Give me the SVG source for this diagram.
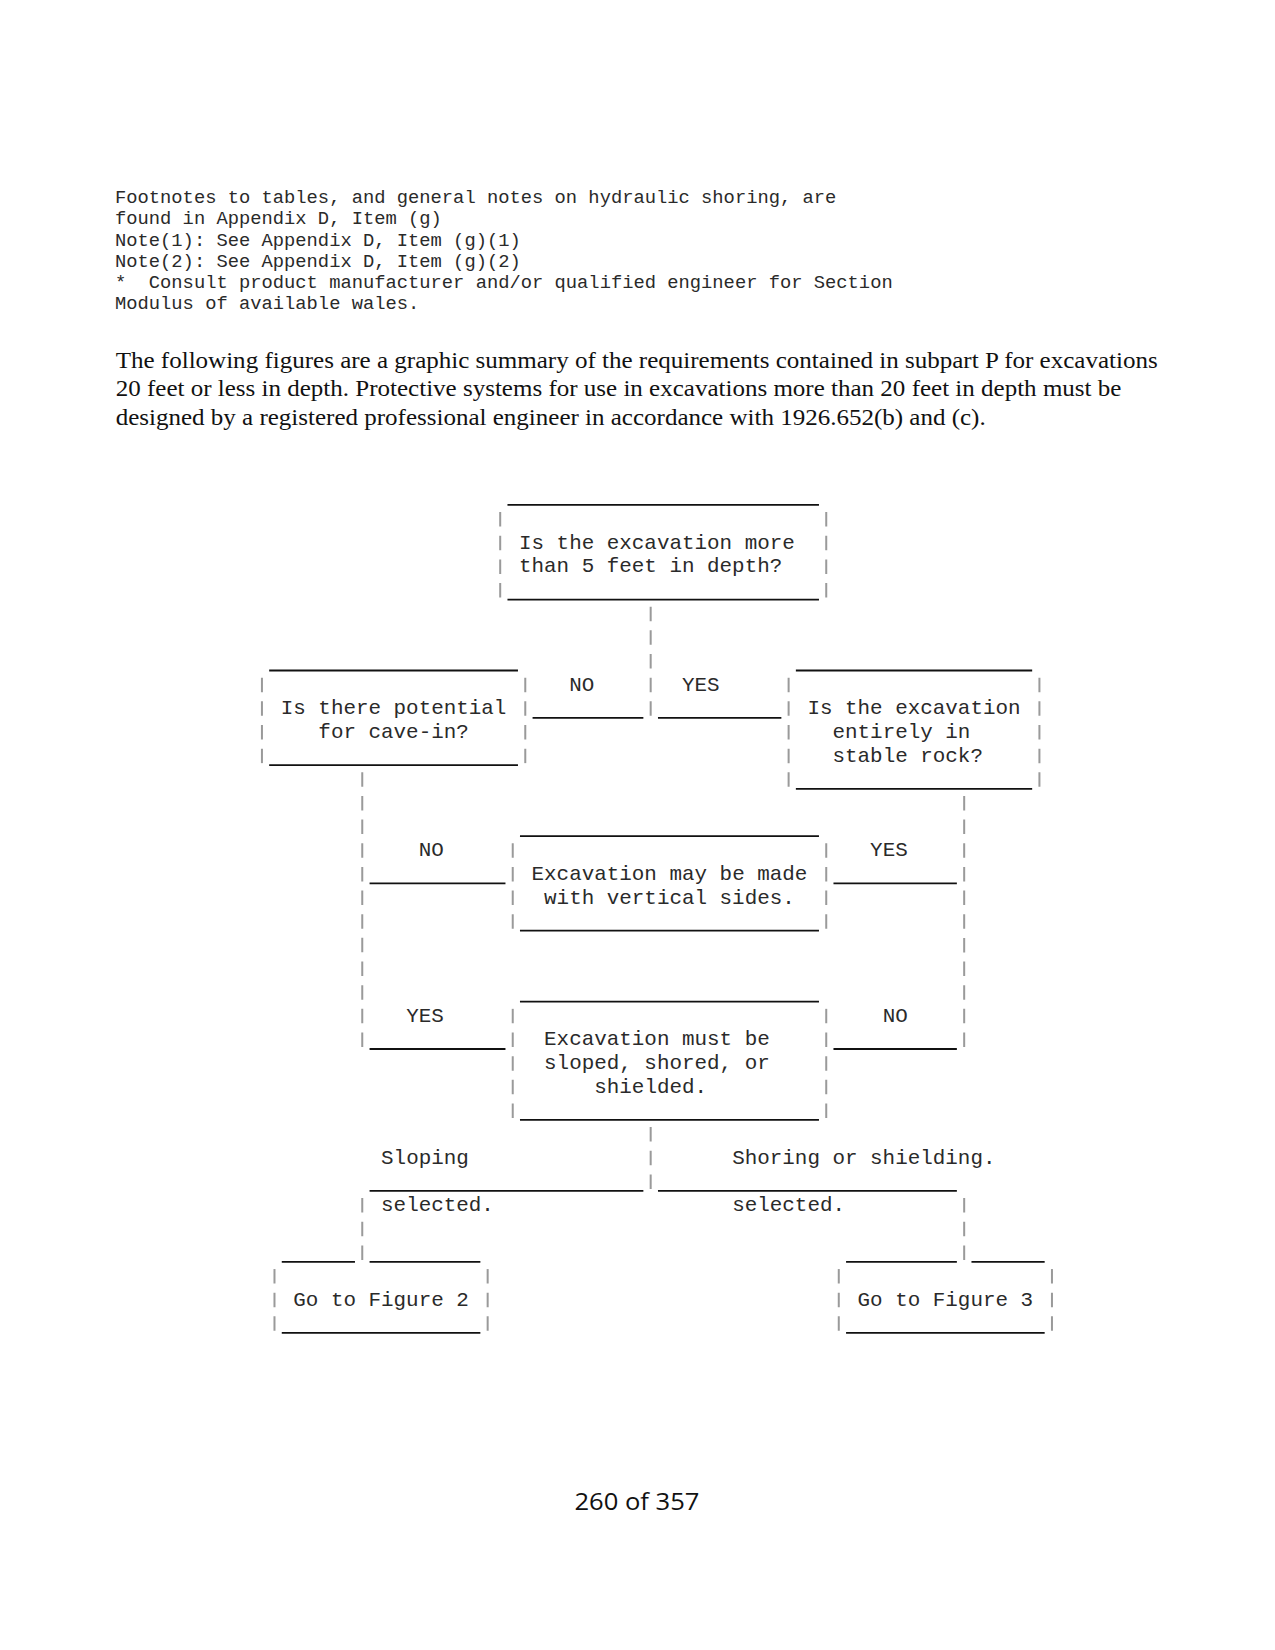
<svg xmlns="http://www.w3.org/2000/svg" width="1275" height="1650" viewBox="0 0 1275 1650">
<style>
.bg{fill:#ffffff}
.foot{font-family:"Liberation Mono",monospace;font-size:18.8px;fill:#2a2a2a;white-space:pre}
.para{font-family:"Liberation Serif",serif;font-size:24px;fill:#111}
.mono{font-family:"Liberation Mono",monospace;font-size:20.9px;fill:#2a2a2a;white-space:pre}
.rule{stroke:#111;stroke-width:1.8;fill:none}
.pipe{stroke:#9a9a9a;stroke-width:2;stroke-dasharray:14.5 9.155;fill:none}
.page{font-family:"Open Sans","Liberation Sans",sans-serif;font-size:24px;fill:#111}
</style>
<rect class="bg" x="0" y="0" width="1275" height="1650"/>
<g id="footnotes">
<text class="foot" x="115" y="203">Footnotes to tables, and general notes on hydraulic shoring, are</text>
<text class="foot" x="115" y="224.2">found in Appendix D, Item (g)</text>
<text class="foot" x="115" y="245.5">Note(1): See Appendix D, Item (g)(1)</text>
<text class="foot" x="115" y="266.7">Note(2): See Appendix D, Item (g)(2)</text>
<text class="foot" x="115" y="288">*  Consult product manufacturer and/or qualified engineer for Section</text>
<text class="foot" x="115" y="309.2">Modulus of available wales.</text>
</g>
<g id="intro">
<text class="para" x="115.7" y="368" textLength="1042" lengthAdjust="spacingAndGlyphs">The following figures are a graphic summary of the requirements contained in subpart P for excavations</text>
<text class="para" x="115.7" y="396.4" textLength="1005.7" lengthAdjust="spacingAndGlyphs">20 feet or less in depth. Protective systems for use in excavations more than 20 feet in depth must be</text>
<text class="para" x="115.7" y="424.8" textLength="870" lengthAdjust="spacingAndGlyphs">designed by a registered professional engineer in accordance with 1926.652(b) and (c).</text>
</g>
<g id="diagram" transform="translate(255.67,494.43)">
<g id="connectors">
<line class="pipe" x1="395.01" y1="112.28" x2="395.01" y2="221.4"/>
<line class="rule" x1="276.9" y1="223.4" x2="387.7" y2="223.4"/>
<line class="rule" x1="402.3" y1="223.4" x2="525.7" y2="223.4"/>
<text class="mono" x="313.5" y="196.24">NO</text>
<text class="mono" x="426.36" y="196.24">YES</text>
<line class="pipe" x1="106.59" y1="277.86" x2="106.59" y2="552.57"/>
<line class="pipe" x1="708.51" y1="301.52" x2="708.51" y2="552.57"/>
<line class="rule" x1="113.9" y1="388.98" x2="249.8" y2="388.98"/>
<line class="rule" x1="577.8" y1="388.98" x2="701.2" y2="388.98"/>
<text class="mono" x="163.02" y="361.83">NO</text>
<text class="mono" x="614.46" y="361.83">YES</text>
<line class="rule" x1="113.9" y1="554.57" x2="249.8" y2="554.57"/>
<line class="rule" x1="577.8" y1="554.57" x2="701.2" y2="554.57"/>
<text class="mono" x="150.48" y="527.41">YES</text>
<text class="mono" x="627" y="527.41">NO</text>
<line class="pipe" x1="395.01" y1="632.69" x2="395.01" y2="694.5"/>
<line class="rule" x1="113.9" y1="696.5" x2="387.7" y2="696.5"/>
<line class="rule" x1="402.3" y1="696.5" x2="701.2" y2="696.5"/>
<text class="mono" x="125.4" y="669.34">Sloping</text>
<text class="mono" x="476.52" y="669.34">Shoring or shielding.</text>
<text class="mono" x="125.4" y="716.65">selected.</text>
<text class="mono" x="476.52" y="716.65">selected.</text>
<line class="pipe" x1="106.59" y1="703.65" x2="106.59" y2="765.46"/>
<line class="pipe" x1="708.51" y1="703.65" x2="708.51" y2="765.46"/>
</g>
<g id="node-depth">
<line class="rule" x1="251.8" y1="10.5" x2="563.3" y2="10.5"/>
<line class="rule" x1="251.8" y1="105.12" x2="563.3" y2="105.12"/>
<line class="pipe" x1="244.53" y1="17.66" x2="244.53" y2="103.12"/>
<line class="pipe" x1="570.57" y1="17.66" x2="570.57" y2="103.12"/>
<text class="mono" x="263.34" y="54.31">Is the excavation more</text>
<text class="mono" x="263.34" y="77.97">than 5 feet in depth?</text>
</g>
<g id="node-cavein">
<line class="rule" x1="13.5" y1="176.09" x2="262.3" y2="176.09"/>
<line class="rule" x1="13.5" y1="270.7" x2="262.3" y2="270.7"/>
<line class="pipe" x1="6.27" y1="183.24" x2="6.27" y2="268.7"/>
<line class="pipe" x1="269.61" y1="183.24" x2="269.61" y2="268.7"/>
<text class="mono" x="25.08" y="219.9">Is there potential</text>
<text class="mono" x="62.7" y="243.55">for cave-in?</text>
</g>
<g id="node-rock">
<line class="rule" x1="540.2" y1="176.09" x2="776.5" y2="176.09"/>
<line class="rule" x1="540.2" y1="294.36" x2="776.5" y2="294.36"/>
<line class="pipe" x1="532.95" y1="183.24" x2="532.95" y2="292.36"/>
<line class="pipe" x1="783.75" y1="183.24" x2="783.75" y2="292.36"/>
<text class="mono" x="551.76" y="219.9">Is the excavation</text>
<text class="mono" x="576.84" y="243.55">entirely in</text>
<text class="mono" x="576.84" y="267.2">stable rock?</text>
</g>
<g id="node-vertical">
<line class="rule" x1="264.3" y1="341.67" x2="563.3" y2="341.67"/>
<line class="rule" x1="264.3" y1="436.29" x2="563.3" y2="436.29"/>
<line class="pipe" x1="257.07" y1="348.83" x2="257.07" y2="434.29"/>
<line class="pipe" x1="570.57" y1="348.83" x2="570.57" y2="434.29"/>
<text class="mono" x="275.88" y="385.48">Excavation may be made</text>
<text class="mono" x="288.42" y="409.14">with vertical sides.</text>
</g>
<g id="node-protect">
<line class="rule" x1="264.3" y1="507.26" x2="563.3" y2="507.26"/>
<line class="rule" x1="264.3" y1="625.53" x2="563.3" y2="625.53"/>
<line class="pipe" x1="257.07" y1="514.41" x2="257.07" y2="623.53"/>
<line class="pipe" x1="570.57" y1="514.41" x2="570.57" y2="623.53"/>
<text class="mono" x="288.42" y="551.07">Excavation must be</text>
<text class="mono" x="288.42" y="574.72">sloped, shored, or</text>
<text class="mono" x="338.58" y="598.38">shielded.</text>
</g>
<g id="node-fig2">
<line class="rule" x1="26.1" y1="767.46" x2="99.3" y2="767.46"/>
<line class="rule" x1="113.9" y1="767.46" x2="224.7" y2="767.46"/>
<line class="rule" x1="26.1" y1="838.43" x2="224.7" y2="838.43"/>
<line class="pipe" x1="18.81" y1="774.62" x2="18.81" y2="836.43"/>
<line class="pipe" x1="231.99" y1="774.62" x2="231.99" y2="836.43"/>
<text class="mono" x="37.62" y="811.27">Go to Figure 2</text>
</g>
<g id="node-fig3">
<line class="rule" x1="590.4" y1="767.46" x2="701.2" y2="767.46"/>
<line class="rule" x1="715.8" y1="767.46" x2="789" y2="767.46"/>
<line class="rule" x1="590.4" y1="838.43" x2="789" y2="838.43"/>
<line class="pipe" x1="583.11" y1="774.62" x2="583.11" y2="836.43"/>
<line class="pipe" x1="796.29" y1="774.62" x2="796.29" y2="836.43"/>
<text class="mono" x="601.92" y="811.27">Go to Figure 3</text>
</g>
</g>
<g id="page-number">
<text class="page" x="574.4" y="1510" textLength="125" lengthAdjust="spacingAndGlyphs">260 of 357</text>
</g>
</svg>
